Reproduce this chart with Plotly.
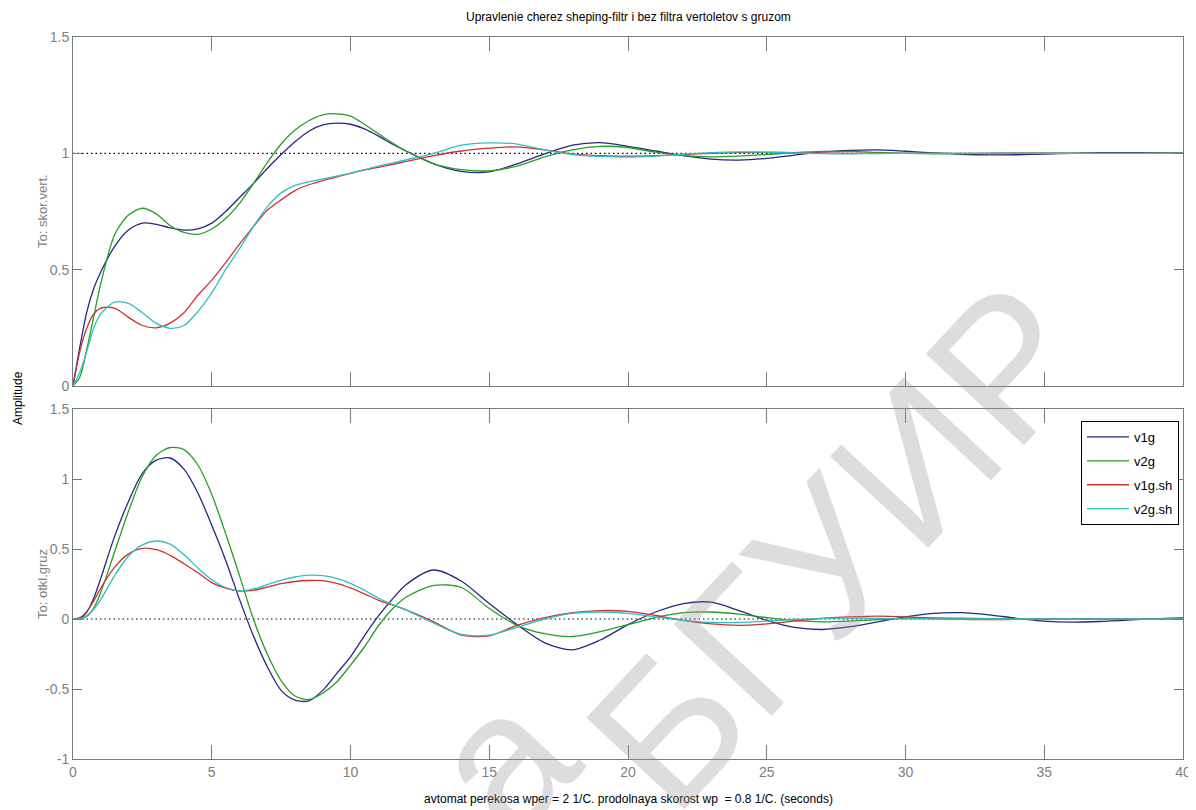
import plotly.graph_objects as go

# ---------------- data ----------------
T = [0, 0.25, 0.5, 0.75, 1, 1.5, 2, 2.5, 3, 3.5, 4, 4.5, 5, 5.5, 6, 6.5, 7, 7.5, 8, 8.5,
     9, 9.5, 10, 10.5, 11, 11.5, 12, 13, 14, 15, 16, 17, 18, 19, 20, 21, 22, 23, 24, 25,
     26, 27, 28, 29, 30, 31, 32, 33, 34, 35, 36, 37, 38, 39, 40]

# Output 1: To: skor.vert.
top_v1g = [0, 0.17, 0.32, 0.42, 0.49, 0.60, 0.67, 0.70, 0.695, 0.68, 0.67, 0.675, 0.70, 0.75,
           0.81, 0.87, 0.935, 0.995, 1.05, 1.095, 1.122, 1.13, 1.125, 1.105, 1.075, 1.04, 1.01,
           0.955, 0.922, 0.92, 0.955, 0.998, 1.035, 1.046, 1.03, 1.01, 0.99, 0.975, 0.971, 0.978,
           0.992, 1.006, 1.013, 1.015, 1.009, 1.002, 0.996, 0.993, 0.994, 0.997, 1.0, 1.003,
           1.003, 1.002, 1.001]
top_v2g = [0, 0.04, 0.16, 0.30, 0.44, 0.65, 0.735, 0.764, 0.74, 0.69, 0.66, 0.652, 0.675, 0.72,
           0.785, 0.87, 0.96, 1.04, 1.10, 1.14, 1.165, 1.17, 1.16, 1.125, 1.085, 1.045, 1.01,
           0.955, 0.93, 0.925, 0.945, 0.985, 1.015, 1.03, 1.025, 1.005, 0.99, 0.985, 0.988, 0.995,
           1.003, 1.008, 1.008, 1.004, 1.0, 0.998, 0.998, 1.0, 1.001, 1.001, 1.0, 1.0, 1.0, 1.0, 1.0]
top_v1g_sh = [0, 0.15, 0.25, 0.31, 0.335, 0.335, 0.295, 0.26, 0.25, 0.27, 0.315, 0.39, 0.455,
              0.53, 0.61, 0.685, 0.755, 0.80, 0.84, 0.865, 0.883, 0.898, 0.914, 0.928, 0.94,
              0.952, 0.965, 0.99, 1.01, 1.022, 1.028, 1.015, 0.998, 0.99, 0.988, 0.99, 0.995,
              1.0, 1.003, 1.004, 1.003, 1.001, 1.0, 1.0, 1.0, 1.0, 1.0, 1.0, 1.0, 1.0, 1.0, 1.0,
              1.0, 1.0, 1.0]
top_v2g_sh = [0, 0.06, 0.15, 0.25, 0.31, 0.36, 0.355, 0.315, 0.27, 0.248, 0.26, 0.32, 0.40,
              0.50, 0.59, 0.685, 0.77, 0.83, 0.862, 0.878, 0.89, 0.902, 0.915, 0.93, 0.945,
              0.958, 0.972, 1.0, 1.035, 1.045, 1.04, 1.015, 0.995, 0.987, 0.984, 0.988, 0.996,
              1.003, 1.006, 1.005, 1.002, 0.999, 0.998, 0.999, 1.0, 1.0, 1.0, 1.0, 1.0, 1.0,
              1.0, 1.0, 1.0, 1.0, 1.0]

# Output 2: To: otkl.gruz
bot_v1g = [0, 0.005, 0.05, 0.15, 0.29, 0.59, 0.84, 1.04, 1.135, 1.15, 1.07, 0.9, 0.67, 0.42,
           0.14, -0.12, -0.34, -0.51, -0.58, -0.585, -0.51, -0.39, -0.27, -0.12, 0.02, 0.14,
           0.245, 0.35, 0.27, 0.11, -0.04, -0.17, -0.22, -0.15, -0.04, 0.05, 0.11, 0.12, 0.06,
           -0.01, -0.06, -0.075, -0.055, -0.02, 0.015, 0.04, 0.045, 0.03, 0.005, -0.015, -0.022,
           -0.018, -0.008, 0.002, 0.008]
bot_v2g = [0, 0.0, 0.02, 0.08, 0.19, 0.48, 0.77, 1.02, 1.17, 1.225, 1.21, 1.1, 0.89, 0.61, 0.31,
           0.0, -0.25, -0.44, -0.55, -0.575, -0.53, -0.45, -0.33, -0.2, -0.05, 0.07, 0.155,
           0.24, 0.225, 0.075, -0.045, -0.105, -0.125, -0.09, -0.04, 0.01, 0.045, 0.05, 0.035,
           0.01, -0.01, -0.02, -0.015, -0.005, 0.005, 0.008, 0.006, 0.002, 0, 0, 0, 0, 0, 0, 0]
bot_v1g_sh = [0, 0.01, 0.055, 0.13, 0.22, 0.37, 0.465, 0.505, 0.495, 0.455, 0.395, 0.33, 0.26,
              0.22, 0.2, 0.205, 0.228, 0.252, 0.268, 0.275, 0.274, 0.255, 0.222, 0.18, 0.135,
              0.1, 0.065, -0.02, -0.115, -0.12, -0.045, 0.01, 0.045, 0.06, 0.055, 0.025, -0.01,
              -0.035, -0.045, -0.035, -0.015, 0.005, 0.015, 0.02, 0.015, 0.005, -0.003, -0.005,
              -0.003, 0, 0, 0, 0, 0, 0]
bot_v2g_sh = [0, 0.0, 0.025, 0.07, 0.14, 0.31, 0.45, 0.53, 0.557, 0.535, 0.46, 0.365, 0.28,
              0.225, 0.2, 0.215, 0.245, 0.278, 0.30, 0.313, 0.31, 0.29, 0.255, 0.205, 0.15,
              0.105, 0.065, -0.03, -0.11, -0.115, -0.06, 0.0, 0.04, 0.05, 0.04, 0.015, -0.01,
              -0.025, -0.025, -0.015, -0.003, 0.005, 0.006, 0.004, 0.001, 0, 0, 0, 0, 0, 0, 0,
              0, 0, 0]

SERIES_NAMES = ["v1g", "v2g", "v1g.sh", "v2g.sh"]
SERIES_COLORS = ["#27267f", "#23a023", "#d03232", "#2cc2c2"]

T_RANGE = [0, 40]
TOP_STEADY = 1
BOT_STEADY = 0

X_TICKS = [0, 5, 10, 15, 20, 25, 30, 35, 40]
TOP_YTICKS = [0, 0.5, 1, 1.5]
TOP_YTEXT = ["0", "0.5", "1", "1.5"]
BOT_YTICKS = [-1, -0.5, 0, 0.5, 1, 1.5]
BOT_YTEXT = ["-1", "-0.5", "0", "0.5", "1", "1.5"]

TITLE = "Upravlenie cherez sheping-filtr i bez filtra vertoletov s gruzom"
XLABEL = "avtomat perekosa wper = 2 1/C. prodolnaya skorost wp  = 0.8 1/C. (seconds)"
YLABEL = "Amplitude"
TOP_LABEL = "To: skor.vert."
BOT_LABEL = "To: otkl.gruz"
WATERMARK = "БГУИР"
WATERMARK_TAIL = "а"

# ---------------- figure geometry ----------------
# the page body has an 8px default margin, so the figure is placed at (8, 8)
OFF = 8
WIN_W, WIN_H = 1196, 810
W, H = WIN_W - OFF, WIN_H - OFF
# plot area in window pixels
AX_L, AX_R = 73, 1183
TOP_T, TOP_B = 37, 386
BOT_T, BOT_B = 409, 759

ML = AX_L - OFF
MR = W - (AX_R - OFF)
MT = TOP_T - OFF
MB = H - (BOT_B - OFF)
plot_h = H - MT - MB
plot_w = W - ML - MR

def py(win_px):
    return (BOT_B - win_px) / plot_h

def px_x(win_px):
    return (win_px - AX_L) / plot_w

FONT = "Liberation Sans Narrow, Liberation Sans, Arial, sans-serif"
AXCOL = "#7a7a7a"
TICKCOL = "#808080"
WM_COL = "rgba(150,150,150,0.32)"
WM_FONT = dict(family="Liberation Sans, Arial, sans-serif", size=195, color=WM_COL)

fig = go.Figure()

tops = [top_v1g, top_v2g, top_v1g_sh, top_v2g_sh]
bots = [bot_v1g, bot_v2g, bot_v1g_sh, bot_v2g_sh]

# steady-state dotted lines
fig.add_trace(go.Scatter(x=T_RANGE, y=[TOP_STEADY, TOP_STEADY], mode="lines",
                         line=dict(color="black", width=1.2, dash="1.5px,3px"),
                         xaxis="x", yaxis="y", showlegend=False, hoverinfo="skip"))
fig.add_trace(go.Scatter(x=T_RANGE, y=[BOT_STEADY, BOT_STEADY], mode="lines",
                         line=dict(color="black", width=1.2, dash="1.5px,3px"),
                         xaxis="x2", yaxis="y2", showlegend=False, hoverinfo="skip"))

for name, col, yt in zip(SERIES_NAMES, SERIES_COLORS, tops):
    fig.add_trace(go.Scatter(x=T, y=yt, mode="lines", name=name, legendgroup=name,
                             line=dict(color=col, width=1.3, shape="spline", smoothing=0.8),
                             xaxis="x", yaxis="y", showlegend=False))
for name, col, yb in zip(SERIES_NAMES, SERIES_COLORS, bots):
    fig.add_trace(go.Scatter(x=T, y=yb, mode="lines", name=name, legendgroup=name,
                             line=dict(color=col, width=1.3, shape="spline", smoothing=0.8),
                             xaxis="x2", yaxis="y2", showlegend=True))

top_dom = [py(TOP_B), 1.0]
bot_dom = [0.0, py(BOT_T)]

common_x = dict(range=T_RANGE, tickvals=X_TICKS, showline=True, linecolor=AXCOL, linewidth=1,
                mirror="ticks", ticks="inside", ticklen=14, tickcolor=AXCOL, tickwidth=1,
                showgrid=False, zeroline=False,
                tickfont=dict(family=FONT, size=14, color=TICKCOL))
common_y = dict(showline=True, linecolor=AXCOL, linewidth=1, mirror="ticks", ticks="inside",
                ticklen=9, tickcolor=AXCOL, tickwidth=1, showgrid=False, zeroline=False,
                tickfont=dict(family=FONT, size=14, color=TICKCOL))

fig.update_layout(
    width=W, height=H,
    margin=dict(l=ML, r=MR, t=MT, b=MB, autoexpand=False),
    paper_bgcolor="white", plot_bgcolor="white",
    xaxis=dict(**common_x, domain=[0, 1], anchor="y", showticklabels=False),
    yaxis=dict(**common_y, domain=top_dom, anchor="x", range=[0, 1.5],
               tickvals=TOP_YTICKS, ticktext=TOP_YTEXT),
    xaxis2=dict(**common_x, domain=[0, 1], anchor="y2", showticklabels=True),
    yaxis2=dict(**common_y, domain=bot_dom, anchor="x2", range=[-1, 1.5],
                tickvals=BOT_YTICKS, ticktext=BOT_YTEXT),
    legend=dict(x=px_x(1081), y=py(421), xanchor="left", yanchor="top",
                bgcolor="white", bordercolor="black", borderwidth=1,
                font=dict(family=FONT, size=13, color="black"),
                itemwidth=42,
                traceorder="grouped", tracegroupgap=4),
    showlegend=True,
)

ann = []
ann.append(dict(text=TITLE, xref="paper", yref="paper", x=0.5, y=py(17), showarrow=False,
                font=dict(family=FONT, size=12, color="black"), xanchor="center", yanchor="middle"))
ann.append(dict(text=XLABEL, xref="paper", yref="paper", x=0.5, y=py(799), showarrow=False,
                font=dict(family=FONT, size=12, color="black"), xanchor="center", yanchor="middle"))
ann.append(dict(text=YLABEL, xref="paper", yref="paper", x=px_x(18), y=py(398), showarrow=False,
                textangle=-90, font=dict(family=FONT, size=12, color="black"),
                xanchor="center", yanchor="middle"))
ann.append(dict(text=TOP_LABEL, xref="paper", yref="paper", x=px_x(42), y=py(211), showarrow=False,
                textangle=-90, font=dict(family=FONT, size=13, color=TICKCOL),
                xanchor="center", yanchor="middle"))
ann.append(dict(text=BOT_LABEL, xref="paper", yref="paper", x=px_x(42), y=py(584), showarrow=False,
                textangle=-90, font=dict(family=FONT, size=13, color=TICKCOL),
                xanchor="center", yanchor="middle"))
ann.append(dict(text=WATERMARK, xref="paper", yref="paper", x=px_x(838), y=py(545), showarrow=False,
                textangle=-47, font=WM_FONT, xanchor="center", yanchor="middle"))
ann.append(dict(text=WATERMARK_TAIL, xref="paper", yref="paper", x=px_x(500), y=py(760), showarrow=False,
                textangle=-47, font=WM_FONT, xanchor="center", yanchor="middle"))
fig.update_layout(annotations=ann)

fig.write_html("out.html")
